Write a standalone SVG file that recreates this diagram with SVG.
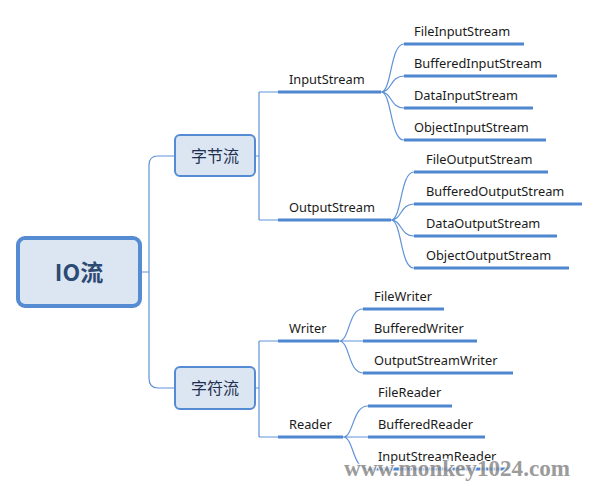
<svg xmlns="http://www.w3.org/2000/svg" width="599" height="486" viewBox="0 0 599 486">
<style>
.t{font-family:"Noto Sans","Liberation Sans",sans-serif;font-size:12.8px;fill:#1a1a1a}
.c{fill:none;stroke:#5f93d8;stroke-width:1.2}
.u{fill:none;stroke:#4f86d0;stroke-width:3}
.box{fill:#dce6f2;stroke:#558bd3}
.cn{font-family:"Noto Sans CJK SC",sans-serif;font-size:16px;fill:#1f2f4f;text-anchor:middle}
</style>
<rect width="599" height="486" fill="#ffffff"/>
<g id="connectors">
<path class="c" d="M142,272 H149 M149,165 V378 M149,165 Q149,156 158,156 H175 M149,378 Q149,388 158,388 H175"/>
<path class="c" d="M255,156 H259 M259,92 V220 M259,92 H278 M259,220 H278"/>
<path class="c" d="M255,388 H259 M259,341 V437 M259,341 H278 M259,437 H278"/>
<path class="c" d="M381,92 C392,92 390,44 404,44 M381,92 C392,92 390,76 404,76 M381,92 C392,92 390,108 404,108 M381,92 C392,92 390,140 404,140"/>
<path class="c" d="M391,220 C402,220 400,172 414,172 M391,220 C402,220 400,204 414,204 M391,220 C402,220 400,236 414,236 M391,220 C402,220 400,268 414,268"/>
<path class="c" d="M339,341 C350,341 348,309 363,309 M339,341 H363 M339,341 C350,341 348,373 363,373"/>
<path class="c" d="M343,437 C354,437 352,406 368,406 M343,437 H368 M343,437 C354,437 352,469 368,469"/>
</g>
<g id="root"><rect class="box" x="18" y="238" width="122" height="68" rx="7" stroke-width="4"/><text x="79" y="281" font-family="Noto Sans CJK SC,sans-serif" font-size="23" font-weight="bold" fill="#2d4a73" text-anchor="middle">IO流</text></g>
<g id="bytestream"><rect class="box" x="175" y="135" width="80" height="41" rx="5" stroke-width="2"/><text class="cn" x="215" y="162">字节流</text></g>
<g id="charstream"><rect class="box" x="175" y="367" width="80" height="42" rx="5" stroke-width="2"/><text class="cn" x="215" y="394">字符流</text></g>
<g id="inputstream"><path class="u" d="M278,92 H381"/><text class="t" x="289" y="84">InputStream</text></g>
<g id="outputstream"><path class="u" d="M278,220 H391"/><text class="t" x="289" y="212">OutputStream</text></g>
<g id="writer"><path class="u" d="M278,341 H339"/><text class="t" x="289" y="333">Writer</text></g>
<g id="reader"><path class="u" d="M278,437 H343"/><text class="t" x="289" y="429">Reader</text></g>
<g id="fileinputstream"><path class="u" d="M404,44 H524"/><text class="t" x="414" y="36">FileInputStream</text></g>
<g id="bufferedinputstream"><path class="u" d="M404,76 H557"/><text class="t" x="414" y="68">BufferedInputStream</text></g>
<g id="datainputstream"><path class="u" d="M404,108 H533"/><text class="t" x="414" y="100">DataInputStream</text></g>
<g id="objectinputstream"><path class="u" d="M404,140 H546"/><text class="t" x="414" y="132">ObjectInputStream</text></g>
<g id="fileoutputstream"><path class="u" d="M414,172 H548"/><text class="t" x="426" y="164">FileOutputStream</text></g>
<g id="bufferedoutputstream"><path class="u" d="M414,204 H582"/><text class="t" x="426" y="196">BufferedOutputStream</text></g>
<g id="dataoutputstream"><path class="u" d="M414,236 H557"/><text class="t" x="426" y="228">DataOutputStream</text></g>
<g id="objectoutputstream"><path class="u" d="M414,268 H569"/><text class="t" x="426" y="260">ObjectOutputStream</text></g>
<g id="filewriter"><path class="u" d="M363,309 H444"/><text class="t" x="374" y="301">FileWriter</text></g>
<g id="bufferedwriter"><path class="u" d="M363,341 H477"/><text class="t" x="374" y="333">BufferedWriter</text></g>
<g id="outputstreamwriter"><path class="u" d="M363,373 H513"/><text class="t" x="374" y="365">OutputStreamWriter</text></g>
<g id="filereader"><path class="u" d="M368,406 H452"/><text class="t" x="378" y="397">FileReader</text></g>
<g id="bufferedreader"><path class="u" d="M368,437 H485"/><text class="t" x="378" y="429">BufferedReader</text></g>
<g id="inputstreamreader"><path class="u" d="M368,469 H509"/><text class="t" x="378" y="461">InputStreamReader</text></g>
<text x="344" y="476" font-family="Liberation Serif,serif" font-size="23" font-weight="bold" textLength="226" lengthAdjust="spacingAndGlyphs" fill="#8a8a8a" stroke="#ffffff" stroke-width="2.5" paint-order="stroke" opacity="0.85">www.monkey1024.com</text>
</svg>
